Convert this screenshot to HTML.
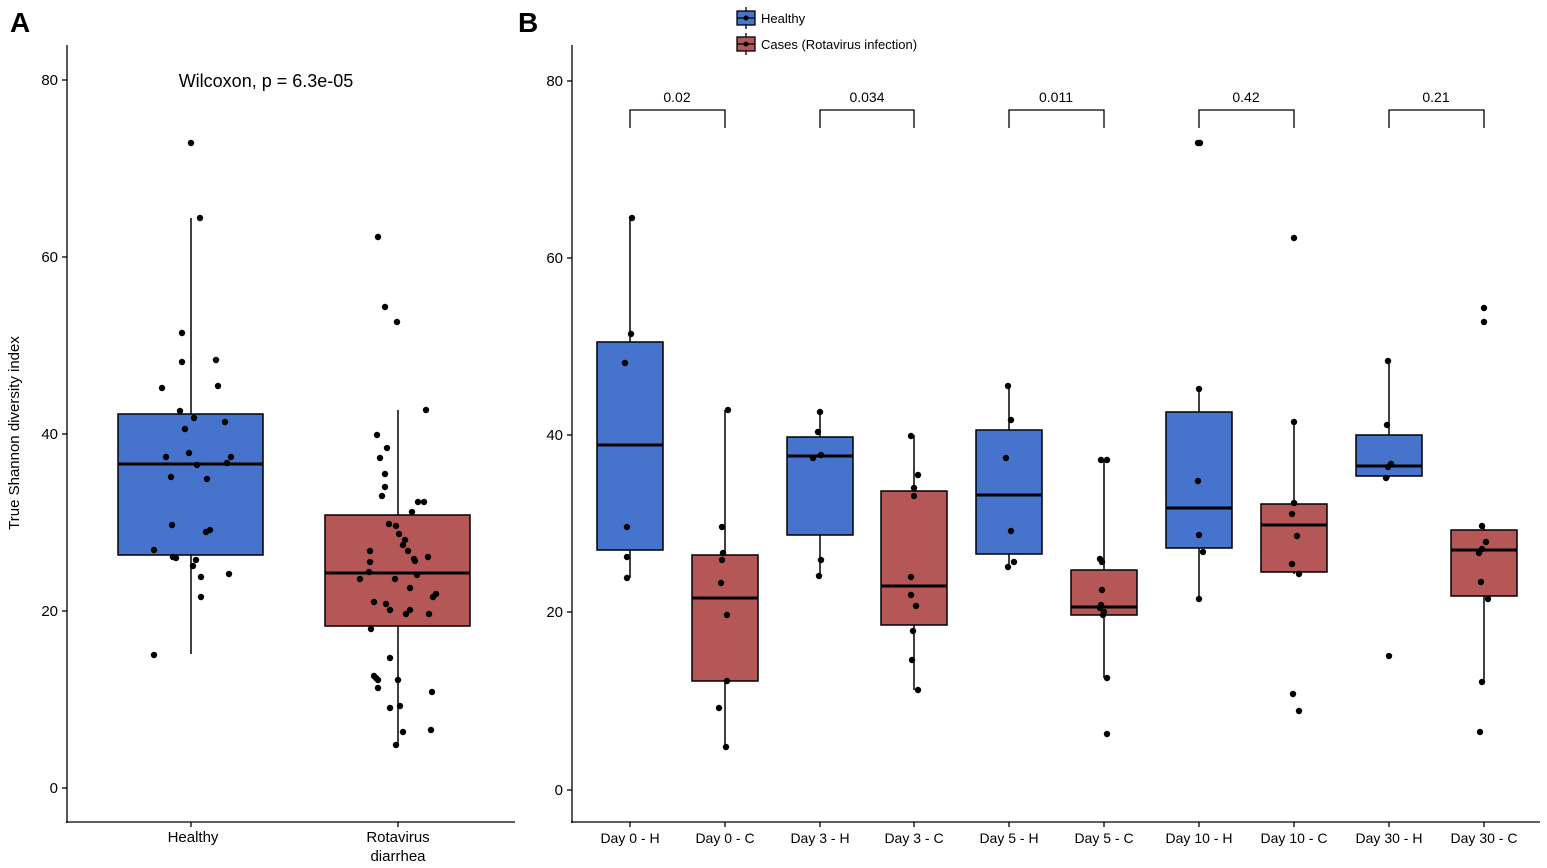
<!DOCTYPE html>
<html><head><meta charset="utf-8"><style>body{margin:0;background:#fff}svg{display:block}text{font-family:"Liberation Sans",Arial,sans-serif}</style></head>
<body>
<svg width="1547" height="868" viewBox="0 0 1547 868" xmlns="http://www.w3.org/2000/svg">
<text x="10" y="32" font-size="28" font-weight="bold">A</text>
<text x="518" y="32" font-size="28" font-weight="bold">B</text>
<!-- Panel A axes -->
<g stroke="#000" stroke-width="1.3" fill="none">
<line x1="67" y1="45" x2="67" y2="823"/><line x1="66" y1="822" x2="515" y2="822"/>
<line x1="62" y1="80" x2="67" y2="80"/><line x1="62" y1="257" x2="67" y2="257"/><line x1="62" y1="434" x2="67" y2="434"/><line x1="62" y1="611" x2="67" y2="611"/><line x1="62" y1="788" x2="67" y2="788"/>
<line x1="191" y1="822" x2="191" y2="827"/><line x1="398" y1="822" x2="398" y2="827"/>
</g>
<g font-size="15" text-anchor="end">
<text x="58" y="85">80</text><text x="58" y="262">60</text><text x="58" y="439">40</text><text x="58" y="616">20</text><text x="58" y="793">0</text>
</g>
<text transform="translate(19,433) rotate(-90)" font-size="15" text-anchor="middle">True Shannon diversity index</text>
<g font-size="15" text-anchor="middle">
<text x="193" y="842">Healthy</text><text x="398" y="842">Rotavirus</text><text x="398" y="861">diarrhea</text>
</g>
<text x="266" y="87" font-size="18" text-anchor="middle">Wilcoxon, p = 6.3e-05</text>
<!-- boxes A -->
<g stroke="#000" stroke-width="1.5">
<line x1="191" y1="218" x2="191" y2="654"/>
<rect x="118" y="414" width="145" height="141" fill="#4674CC"/>
<line x1="118" y1="464" x2="263" y2="464" stroke-width="3"/>
<line x1="398" y1="410" x2="398" y2="745"/>
<rect x="325" y="515" width="145" height="111" fill="#B55757"/>
<line x1="325" y1="573" x2="470" y2="573" stroke-width="3"/>
</g>
<g fill="#000">
<circle cx="191" cy="143" r="3.2"/><circle cx="200" cy="218" r="3.2"/><circle cx="182" cy="333" r="3.2"/><circle cx="182" cy="362" r="3.2"/><circle cx="216" cy="360" r="3.2"/><circle cx="162" cy="388" r="3.2"/><circle cx="218" cy="386" r="3.2"/><circle cx="180" cy="411" r="3.2"/><circle cx="194" cy="418" r="3.2"/><circle cx="225" cy="422" r="3.2"/><circle cx="185" cy="429" r="3.2"/><circle cx="166" cy="457" r="3.2"/><circle cx="189" cy="453" r="3.2"/><circle cx="231" cy="457" r="3.2"/><circle cx="197" cy="465" r="3.2"/><circle cx="227" cy="463" r="3.2"/><circle cx="171" cy="477" r="3.2"/><circle cx="207" cy="479" r="3.2"/><circle cx="172" cy="525" r="3.2"/><circle cx="206" cy="532" r="3.2"/><circle cx="210" cy="530" r="3.2"/><circle cx="154" cy="550" r="3.2"/><circle cx="173" cy="557" r="3.2"/><circle cx="176" cy="558" r="3.2"/><circle cx="196" cy="560" r="3.2"/><circle cx="193" cy="566" r="3.2"/><circle cx="201" cy="577" r="3.2"/><circle cx="229" cy="574" r="3.2"/><circle cx="201" cy="597" r="3.2"/><circle cx="154" cy="655" r="3.2"/>
</g>
<g fill="#000">
<circle cx="378" cy="237" r="3.2"/><circle cx="385" cy="307" r="3.2"/><circle cx="397" cy="322" r="3.2"/><circle cx="426" cy="410" r="3.2"/><circle cx="377" cy="435" r="3.2"/><circle cx="387" cy="448" r="3.2"/><circle cx="380" cy="458" r="3.2"/><circle cx="385" cy="474" r="3.2"/><circle cx="385" cy="487" r="3.2"/><circle cx="382" cy="496" r="3.2"/><circle cx="418" cy="502" r="3.2"/><circle cx="424" cy="502" r="3.2"/><circle cx="412" cy="512" r="3.2"/><circle cx="389" cy="524" r="3.2"/><circle cx="396" cy="526" r="3.2"/><circle cx="399" cy="534" r="3.2"/><circle cx="405" cy="540" r="3.2"/><circle cx="403" cy="545" r="3.2"/><circle cx="370" cy="551" r="3.2"/><circle cx="408" cy="551" r="3.2"/><circle cx="414" cy="559" r="3.2"/><circle cx="415" cy="561" r="3.2"/><circle cx="428" cy="557" r="3.2"/><circle cx="370" cy="562" r="3.2"/><circle cx="369" cy="572" r="3.2"/><circle cx="417" cy="575" r="3.2"/><circle cx="360" cy="579" r="3.2"/><circle cx="395" cy="579" r="3.2"/><circle cx="410" cy="588" r="3.2"/><circle cx="433" cy="597" r="3.2"/><circle cx="436" cy="594" r="3.2"/><circle cx="374" cy="602" r="3.2"/><circle cx="386" cy="604" r="3.2"/><circle cx="390" cy="610" r="3.2"/><circle cx="410" cy="610" r="3.2"/><circle cx="406" cy="614" r="3.2"/><circle cx="429" cy="614" r="3.2"/><circle cx="371" cy="629" r="3.2"/><circle cx="390" cy="658" r="3.2"/><circle cx="374" cy="676" r="3.2"/><circle cx="376" cy="678" r="3.2"/><circle cx="378" cy="680" r="3.2"/><circle cx="398" cy="680" r="3.2"/><circle cx="378" cy="688" r="3.2"/><circle cx="432" cy="692" r="3.2"/><circle cx="390" cy="708" r="3.2"/><circle cx="400" cy="706" r="3.2"/><circle cx="403" cy="732" r="3.2"/><circle cx="431" cy="730" r="3.2"/><circle cx="396" cy="745" r="3.2"/>
</g>

<!-- Panel B axes -->
<g stroke="#000" stroke-width="1.3" fill="none">
<line x1="572" y1="45" x2="572" y2="823"/><line x1="571" y1="822" x2="1540" y2="822"/>
<line x1="567" y1="81" x2="572" y2="81"/><line x1="567" y1="258" x2="572" y2="258"/><line x1="567" y1="435" x2="572" y2="435"/><line x1="567" y1="612" x2="572" y2="612"/><line x1="567" y1="790" x2="572" y2="790"/>
<line x1="630" y1="822" x2="630" y2="827"/><line x1="725" y1="822" x2="725" y2="827"/><line x1="820" y1="822" x2="820" y2="827"/><line x1="914" y1="822" x2="914" y2="827"/><line x1="1009" y1="822" x2="1009" y2="827"/><line x1="1104" y1="822" x2="1104" y2="827"/><line x1="1199" y1="822" x2="1199" y2="827"/><line x1="1294" y1="822" x2="1294" y2="827"/><line x1="1389" y1="822" x2="1389" y2="827"/><line x1="1484" y1="822" x2="1484" y2="827"/>
<path d="M630 128V110H725V128M820 128V110H914V128M1009 128V110H1104V128M1199 128V110H1294V128M1389 128V110H1484V128"/>
</g>
<g font-size="15" text-anchor="end">
<text x="563" y="86">80</text><text x="563" y="263">60</text><text x="563" y="440">40</text><text x="563" y="617">20</text><text x="563" y="795">0</text>
</g>
<g font-size="14" text-anchor="middle">
<text x="630" y="843">Day 0 - H</text><text x="725" y="843">Day 0 - C</text><text x="820" y="843">Day 3 - H</text><text x="914" y="843">Day 3 - C</text><text x="1009" y="843">Day 5 - H</text><text x="1104" y="843">Day 5 - C</text><text x="1199" y="843">Day 10 - H</text><text x="1294" y="843">Day 10 - C</text><text x="1389" y="843">Day 30 - H</text><text x="1484" y="843">Day 30 - C</text>
<text x="677" y="102">0.02</text><text x="867" y="102">0.034</text><text x="1056" y="102">0.011</text><text x="1246" y="102">0.42</text><text x="1436" y="102">0.21</text>
</g>
<g stroke="#000" stroke-width="1.3">
<line x1="746" y1="7" x2="746" y2="29"/><rect x="737" y="11" width="18" height="14" fill="#4674CC"/><line x1="737" y1="18" x2="755" y2="18"/>
<line x1="746" y1="33" x2="746" y2="55"/><rect x="737" y="37" width="18" height="14" fill="#B55757"/><line x1="737" y1="44" x2="755" y2="44"/>
</g>
<circle cx="746" cy="18" r="2.5"/><circle cx="746" cy="44" r="2.5"/>
<text x="761" y="23" font-size="13">Healthy</text>
<text x="761" y="49" font-size="13">Cases (Rotavirus infection)</text>

<g stroke="#000" stroke-width="1.5">
<line x1="630" y1="218" x2="630" y2="578"/><rect x="597" y="342" width="66" height="208" fill="#4674CC"/><line x1="597" y1="445" x2="663" y2="445" stroke-width="3"/>
<line x1="725" y1="410" x2="725" y2="747"/><rect x="692" y="555" width="66" height="126" fill="#B55757"/><line x1="692" y1="598" x2="758" y2="598" stroke-width="3"/>
<line x1="820" y1="412" x2="820" y2="576"/><rect x="787" y="437" width="66" height="98" fill="#4674CC"/><line x1="787" y1="456" x2="853" y2="456" stroke-width="3"/>
<line x1="914" y1="435" x2="914" y2="690"/><rect x="881" y="491" width="66" height="134" fill="#B55757"/><line x1="881" y1="586" x2="947" y2="586" stroke-width="3"/>
<line x1="1009" y1="386" x2="1009" y2="567"/><rect x="976" y="430" width="66" height="124" fill="#4674CC"/><line x1="976" y1="495" x2="1042" y2="495" stroke-width="3"/>
<line x1="1104" y1="460" x2="1104" y2="678"/><rect x="1071" y="570" width="66" height="45" fill="#B55757"/><line x1="1071" y1="607" x2="1137" y2="607" stroke-width="3"/>
<line x1="1199" y1="389" x2="1199" y2="599"/><rect x="1166" y="412" width="66" height="136" fill="#4674CC"/><line x1="1166" y1="508" x2="1232" y2="508" stroke-width="3"/>
<line x1="1294" y1="422" x2="1294" y2="574"/><rect x="1261" y="504" width="66" height="68" fill="#B55757"/><line x1="1261" y1="525" x2="1327" y2="525" stroke-width="3"/>
<line x1="1389" y1="361" x2="1389" y2="478"/><rect x="1356" y="435" width="66" height="41" fill="#4674CC"/><line x1="1356" y1="466" x2="1422" y2="466" stroke-width="3"/>
<line x1="1484" y1="526" x2="1484" y2="682"/><rect x="1451" y="530" width="66" height="66" fill="#B55757"/><line x1="1451" y1="550" x2="1517" y2="550" stroke-width="3"/>
</g>
<g fill="#000">
<circle cx="632" cy="218" r="3.2"/><circle cx="631" cy="334" r="3.2"/><circle cx="625" cy="363" r="3.2"/><circle cx="627" cy="527" r="3.2"/><circle cx="627" cy="557" r="3.2"/><circle cx="627" cy="578" r="3.2"/>
<circle cx="728" cy="410" r="3.2"/><circle cx="722" cy="527" r="3.2"/><circle cx="723" cy="553" r="3.2"/><circle cx="722" cy="560" r="3.2"/><circle cx="721" cy="583" r="3.2"/><circle cx="727" cy="615" r="3.2"/><circle cx="727" cy="681" r="3.2"/><circle cx="719" cy="708" r="3.2"/><circle cx="726" cy="747" r="3.2"/>
<circle cx="820" cy="412" r="3.2"/><circle cx="818" cy="432" r="3.2"/><circle cx="821" cy="455" r="3.2"/><circle cx="813" cy="458" r="3.2"/><circle cx="821" cy="560" r="3.2"/><circle cx="819" cy="576" r="3.2"/>
<circle cx="911" cy="436" r="3.2"/><circle cx="918" cy="475" r="3.2"/><circle cx="914" cy="488" r="3.2"/><circle cx="914" cy="496" r="3.2"/><circle cx="911" cy="577" r="3.2"/><circle cx="911" cy="595" r="3.2"/><circle cx="916" cy="606" r="3.2"/><circle cx="913" cy="631" r="3.2"/><circle cx="912" cy="660" r="3.2"/><circle cx="918" cy="690" r="3.2"/>
<circle cx="1008" cy="386" r="3.2"/><circle cx="1011" cy="420" r="3.2"/><circle cx="1006" cy="458" r="3.2"/><circle cx="1011" cy="531" r="3.2"/><circle cx="1014" cy="562" r="3.2"/><circle cx="1008" cy="567" r="3.2"/>
<circle cx="1101" cy="460" r="3.2"/><circle cx="1107" cy="460" r="3.2"/><circle cx="1100" cy="559" r="3.2"/><circle cx="1102" cy="562" r="3.2"/><circle cx="1102" cy="590" r="3.2"/><circle cx="1101" cy="605" r="3.2"/><circle cx="1100" cy="608" r="3.2"/><circle cx="1104" cy="612" r="3.2"/><circle cx="1103" cy="615" r="3.2"/><circle cx="1107" cy="678" r="3.2"/><circle cx="1107" cy="734" r="3.2"/>
<circle cx="1198" cy="143" r="3.2"/><circle cx="1200" cy="143" r="3.2"/><circle cx="1199" cy="389" r="3.2"/><circle cx="1198" cy="481" r="3.2"/><circle cx="1199" cy="535" r="3.2"/><circle cx="1203" cy="552" r="3.2"/><circle cx="1199" cy="599" r="3.2"/>
<circle cx="1294" cy="238" r="3.2"/><circle cx="1294" cy="422" r="3.2"/><circle cx="1294" cy="503" r="3.2"/><circle cx="1292" cy="514" r="3.2"/><circle cx="1297" cy="536" r="3.2"/><circle cx="1292" cy="564" r="3.2"/><circle cx="1299" cy="574" r="3.2"/><circle cx="1293" cy="694" r="3.2"/><circle cx="1299" cy="711" r="3.2"/>
<circle cx="1388" cy="361" r="3.2"/><circle cx="1387" cy="425" r="3.2"/><circle cx="1391" cy="464" r="3.2"/><circle cx="1388" cy="467" r="3.2"/><circle cx="1386" cy="478" r="3.2"/><circle cx="1389" cy="656" r="3.2"/>
<circle cx="1484" cy="308" r="3.2"/><circle cx="1484" cy="322" r="3.2"/><circle cx="1482" cy="526" r="3.2"/><circle cx="1486" cy="542" r="3.2"/><circle cx="1482" cy="549" r="3.2"/><circle cx="1479" cy="553" r="3.2"/><circle cx="1481" cy="582" r="3.2"/><circle cx="1488" cy="599" r="3.2"/><circle cx="1482" cy="682" r="3.2"/><circle cx="1480" cy="732" r="3.2"/>
</g>
</svg>
</body></html>
